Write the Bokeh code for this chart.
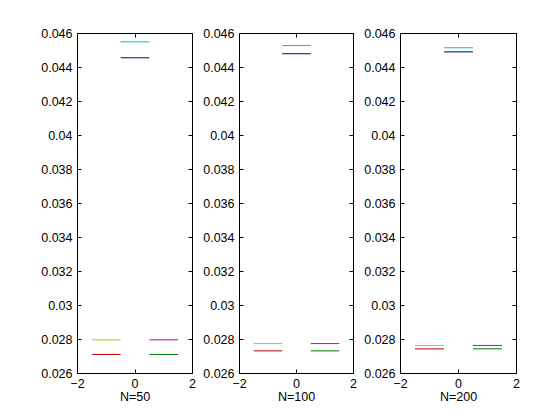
from bokeh.plotting import figure
from bokeh.layouts import row
from bokeh.models import Range1d, FixedTicker, LinearAxis, CustomJSTickFormatter, PrintfTickFormatter, ColumnDataSource
from bokeh.embed import file_html
from bokeh.resources import INLINE

# ---- data ----
n_labels = ["N=50", "N=100", "N=200"]
cyan_vals = [0.04551, 0.04529, 0.04516]
blue_vals = [0.04457, 0.04481, 0.04492]
yellow_vals = [0.02798, 0.02776, 0.02765]
red_vals = [0.02712, 0.02733, 0.02745]
magenta_vals = [0.02798, 0.02776, 0.02765]
green_vals = [0.02712, 0.02733, 0.02745]
left_span = [-1.5, -0.5]
center_span = [-0.5, 0.5]
right_span = [0.5, 1.5]
y_ticks = [0.026, 0.028, 0.03, 0.032, 0.034, 0.036, 0.038, 0.04, 0.042, 0.044, 0.046]
x_ticks = [-2, 0, 2]

series = [
    (cyan_vals, center_span, "#00BFBF"),
    (blue_vals, center_span, "#000090"),
    (yellow_vals, left_span, "#BFBF00"),
    (red_vals, left_span, "#BF0000"),
    (magenta_vals, right_span, "#BF00BF"),
    (green_vals, right_span, "#008000"),
]

FONT = "Liberation Sans"
FS = "12.5px"

borders = [(77, 8, 115), (36, 8, 114), (34, 10, 116)]

figs = []
for i, lab in enumerate(n_labels):
    bl, br, fw = borders[i]
    p = figure(frame_width=fw, frame_height=340, output_backend="svg", toolbar_location=None,
               x_range=Range1d(-2, 2), y_range=Range1d(0.026, 0.046),
               min_border_left=bl, min_border_right=br, min_border_top=33, min_border_bottom=36)
    p.xgrid.visible = False
    p.ygrid.visible = False
    p.outline_line_color = "black"
    p.background_fill_color = "white"
    p.border_fill_color = "white"

    x0 = [s[1][0] for s in series]
    x1 = [s[1][1] for s in series]
    yv = [s[0][i] for s in series]
    cols = [s[2] for s in series]
    src = ColumnDataSource(dict(x0=x0, x1=x1, y=yv, c=cols))
    p.segment(x0="x0", y0="y", x1="x1", y1="y", line_color="c", line_width=1, source=src)

    p.xaxis.ticker = FixedTicker(ticks=x_ticks)
    p.yaxis.ticker = FixedTicker(ticks=y_ticks)
    p.yaxis.formatter = PrintfTickFormatter(format="%g")
    p.xaxis.axis_label = lab
    p.xaxis.axis_label_text_font_style = "normal"
    p.xaxis.axis_label_standoff = -1

    for ax in p.xaxis + p.yaxis:
        ax.major_tick_in = 4
        ax.major_tick_out = 0
        ax.minor_tick_line_color = None
        ax.major_label_text_font = FONT
        ax.major_label_text_font_size = FS
        ax.major_label_text_color = "black"
        ax.axis_label_text_font = FONT
        ax.axis_label_text_font_size = FS
        ax.axis_label_text_color = "black"
        ax.axis_line_color = "black"
        ax.major_tick_line_color = "black"
        ax.major_label_standoff = 5

    blank = CustomJSTickFormatter(code="return ''")
    r_ax = LinearAxis(ticker=FixedTicker(ticks=y_ticks), formatter=blank,
                      major_tick_in=4, major_tick_out=0, minor_tick_line_color=None,
                      major_label_standoff=0, axis_line_color="black")
    t_ax = LinearAxis(ticker=FixedTicker(ticks=x_ticks), formatter=blank,
                      major_tick_in=4, major_tick_out=0, minor_tick_line_color=None,
                      major_label_standoff=0, axis_line_color="black")
    p.add_layout(r_ax, "right")
    p.add_layout(t_ax, "above")
    figs.append(p)

layout = row(*figs, spacing=0)
open("out.html", "w").write(file_html(layout, INLINE))
